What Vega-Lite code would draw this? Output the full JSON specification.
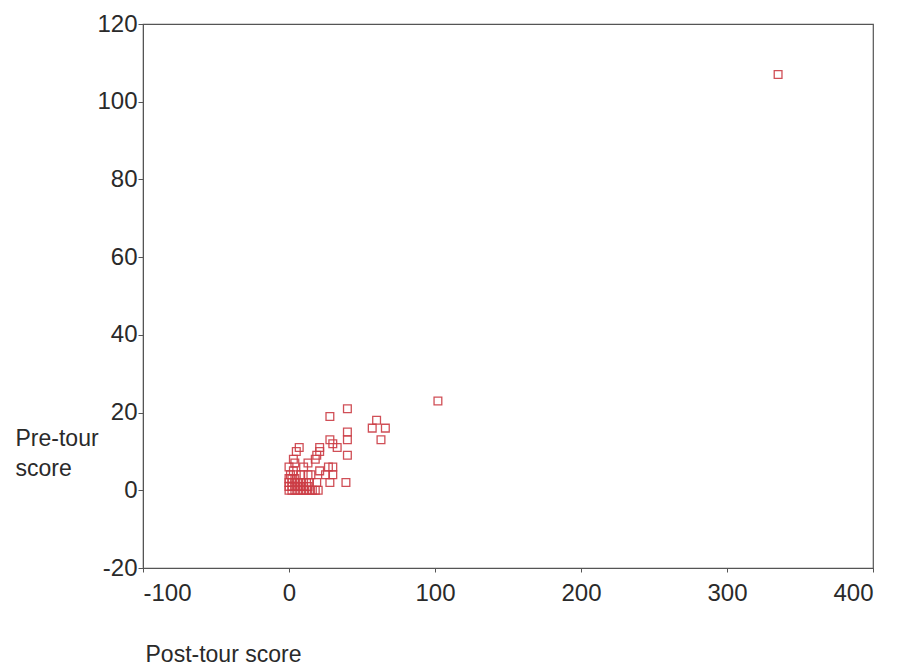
{
  "$schema": "https://vega.github.io/schema/vega-lite/v6.json",
  "width": 730,
  "height": 544,
  "autosize": {"type": "none"},
  "padding": {"left": 143, "top": 24, "right": 33, "bottom": 99},
  "background": "white",
  "config": {
    "font": "Liberation Sans",
    "view": {"stroke": "#555555", "strokeWidth": 1.2},
    "axis": {
      "grid": false,
      "domainColor": "#555555",
      "tickColor": "#555555",
      "labelColor": "#2a2a2a",
      "titleColor": "#2a2a2a",
      "labelFontSize": 24,
      "titleFontSize": 23,
      "labelFont": "Liberation Sans",
      "titleFont": "Liberation Sans",
      "titleFontWeight": "normal",
      "labelExpr": "datum.value + ''"
    }
  },
  "data": {
    "values": [
      {"post": 335, "pre": 107},
      {"post": 102, "pre": 23},
      {"post": 40, "pre": 21},
      {"post": 28, "pre": 19},
      {"post": 60, "pre": 18},
      {"post": 57, "pre": 16},
      {"post": 66, "pre": 16},
      {"post": 40, "pre": 15},
      {"post": 63, "pre": 13},
      {"post": 40, "pre": 13},
      {"post": 28, "pre": 13},
      {"post": 30, "pre": 12},
      {"post": 33, "pre": 11},
      {"post": 21, "pre": 11},
      {"post": 7, "pre": 11},
      {"post": 21, "pre": 10},
      {"post": 5, "pre": 10},
      {"post": 40, "pre": 9},
      {"post": 19, "pre": 9},
      {"post": 18, "pre": 8},
      {"post": 3, "pre": 8},
      {"post": 4, "pre": 7},
      {"post": 0, "pre": 6},
      {"post": 13, "pre": 7},
      {"post": 10, "pre": 6},
      {"post": 27, "pre": 6},
      {"post": 30, "pre": 6},
      {"post": 21, "pre": 5},
      {"post": 3, "pre": 5},
      {"post": 25, "pre": 4},
      {"post": 8, "pre": 4},
      {"post": 13, "pre": 4},
      {"post": 15, "pre": 4},
      {"post": 30, "pre": 4},
      {"post": 5, "pre": 4},
      {"post": 1, "pre": 4},
      {"post": 39, "pre": 2},
      {"post": 28, "pre": 2},
      {"post": 19, "pre": 2},
      {"post": 13, "pre": 1},
      {"post": 16, "pre": 0},
      {"post": 0, "pre": 0},
      {"post": 0, "pre": 1},
      {"post": 0, "pre": 2},
      {"post": 0, "pre": 3},
      {"post": 2, "pre": 0},
      {"post": 2, "pre": 1},
      {"post": 2, "pre": 2},
      {"post": 2, "pre": 3},
      {"post": 4, "pre": 0},
      {"post": 4, "pre": 1},
      {"post": 4, "pre": 2},
      {"post": 4, "pre": 3},
      {"post": 6, "pre": 0},
      {"post": 6, "pre": 1},
      {"post": 6, "pre": 2},
      {"post": 8, "pre": 0},
      {"post": 8, "pre": 1},
      {"post": 8, "pre": 2},
      {"post": 10, "pre": 0},
      {"post": 10, "pre": 1},
      {"post": 10, "pre": 2},
      {"post": 12, "pre": 0},
      {"post": 12, "pre": 2},
      {"post": 14, "pre": 0},
      {"post": 14, "pre": 2},
      {"post": 18, "pre": 0},
      {"post": 20, "pre": 0}
    ]
  },
  "mark": {
    "type": "point",
    "shape": "square",
    "filled": false,
    "size": 60,
    "stroke": "#cc3d45",
    "strokeWidth": 1.3,
    "opacity": 0.9
  },
  "encoding": {
    "x": {
      "field": "post",
      "type": "quantitative",
      "scale": {"domain": [-100, 400], "nice": false, "zero": false},
      "axis": {
        "values": [-100, 0, 100, 200, 300, 400],
        "tickSize": 4,
        "labelPadding": 9,
        "title": "Post-tour score",
        "titleAnchor": "start",
        "titleAlign": "left",
        "titleX": 2,
        "titleY": 93,
        "titleBaseline": "alphabetic"
      }
    },
    "y": {
      "field": "pre",
      "type": "quantitative",
      "scale": {"domain": [-20, 120], "nice": false, "zero": false},
      "axis": {
        "values": [-20, 0, 20, 40, 60, 80, 100, 120],
        "tickSize": 5,
        "labelPadding": 1,
        "title": ["Pre-tour", "score"],
        "titleAngle": 0,
        "titleAlign": "left",
        "titleBaseline": "alphabetic",
        "titleLineHeight": 30,
        "titleX": -128,
        "titleY": 421
      }
    }
  }
}
